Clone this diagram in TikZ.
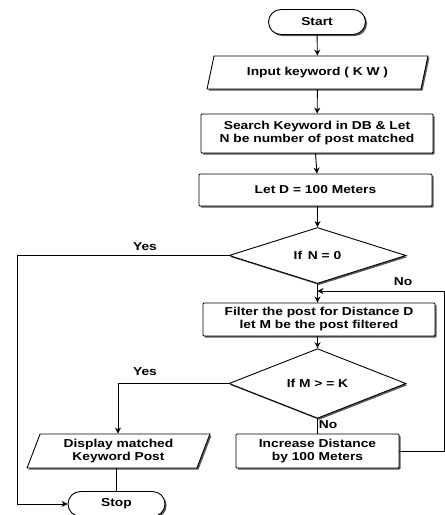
\documentclass[tikz,border=0pt]{standalone}
\usepackage{fontspec}
\setmainfont{Liberation Sans}[FakeStretch=1.2]
\usetikzlibrary{shapes.geometric,shapes.misc,shadows,arrows.meta}
\begin{document}
\begin{tikzpicture}[x=1pt,y=-1pt,
  font=\fontsize{11.5}{13}\selectfont\bfseries,
  shd/.style={drop shadow={shadow xshift=1.6pt,shadow yshift=-1.6pt,fill=black!65,opacity=1}},
  box/.style={draw,line width=0.9pt,fill=white,shd,rectangle,rounded corners=1pt,inner sep=0pt,align=center},
  term/.style={draw,line width=0.9pt,fill=white,shd,rounded rectangle,inner sep=0pt,minimum width=97pt,minimum height=25pt},
  io/.style={draw,line width=0.9pt,fill=white,shd,trapezium,trapezium stretches=true,inner sep=0pt,align=center},
  dec/.style={draw,line width=0.9pt,fill=white,shd,diamond,inner sep=0pt,minimum width=177pt,minimum height=51pt},
  conn/.style={line width=0.9pt},
  arr/.style={line width=0.9pt,-{Stealth[length=6pt,width=6pt]}},
  lbl/.style={inner sep=0pt}]
\useasboundingbox (0,0) rectangle (445,515);
\node[term] (start) at (317,22) {Start};
\node[io,trapezium left angle=66,trapezium right angle=114,minimum width=221pt,minimum height=33pt] (input) at (317.5,72.5) {Input keyword ( K W )};
\node[box,minimum width=232pt,minimum height=39pt] (search) at (317,133.5) {Search Keyword in DB \& Let\\N be number of post matched};
\node[box,minimum width=233pt,minimum height=32pt] (letd) at (315.5,190) {Let D = 100 Meters};
\node[dec] (d1) at (317.5,255.5) {If\, N = 0};
\node[box,minimum width=232pt,minimum height=33pt] (filter) at (319,319.5) {Filter the post for Distance D\\let M be the post filtered};
\node[dec] (d2) at (317.5,383.5) {If M > = K};
\node[io,trapezium left angle=69,trapezium right angle=111,minimum width=183pt,minimum height=34pt] (display) at (118.5,451) {Display matched\\Keyword Post};
\node[box,minimum width=163pt,minimum height=34pt] (inc) at (317.5,451) {Increase Distance\\by 100 Meters};
\node[term] (stop) at (116.5,504) {Stop};
\coordinate (y1) at (17,255.5);
\coordinate (y1b) at (17,504);
\coordinate (y2) at (118,383.5);
\coordinate (loopa) at (444,451);
\coordinate (loopb) at (444,291);
\coordinate (join) at (317.5,291);
\draw[arr] (start) -- (input);
\draw[arr] (input) -- (search);
\draw[arr] (search.south -| letd.north) -- (letd.north -| search.south);
\draw[arr] (letd.south -| d1.north) -- (d1.north);
\draw[arr] (d1.south) -- (d1.south |- filter.north);
\draw[arr] (filter.south -| d2.north) -- (d2.north);
\draw[arr] (d2.west) -- (y2) -- (display.north -| y2);
\draw[conn] (d2.south) -- (inc.north);
\draw[conn] (display.south -| stop.north) -- (stop.north);
\draw[arr] (d1.west) -- (y1) -- (y1b) -- (stop.west);
\draw[conn] (inc.east) -- (loopa) -- (loopb) -- (join);
\draw[arr] (loopb) -- (join);
\node[lbl] (yes1) at (145,247) {Yes};
\node[lbl] (no1) at (403,282) {No};
\node[lbl] (yes2) at (145,372) {Yes};
\node[lbl] (no2) at (328,425) {No};
\end{tikzpicture}
\end{document}
